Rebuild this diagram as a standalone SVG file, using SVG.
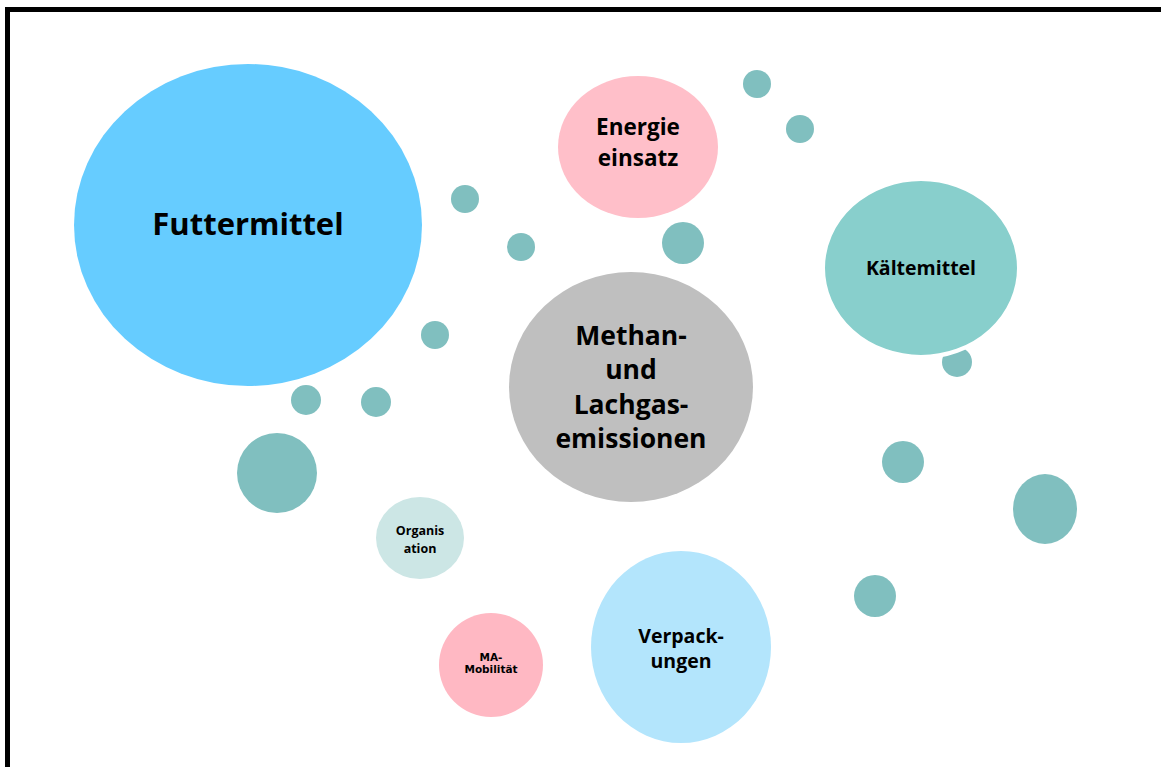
<svg xmlns="http://www.w3.org/2000/svg" width="1161" height="767" viewBox="0 0 1161 767">
<style>
.t{font-family:"Open Sans",Lato,"Liberation Sans",sans-serif;font-weight:bold;fill:#000;text-anchor:middle}
.dot{fill:#80BFBF}
</style>
<rect x="0" y="0" width="1161" height="767" fill="#fff"/>
<path d="M7.5 767 V9.5 H1161" fill="none" stroke="#000" stroke-width="5"/>
<g id="dots">
<circle class="dot" cx="757" cy="84" r="14"/>
<circle class="dot" cx="800" cy="129" r="14"/>
<circle class="dot" cx="465" cy="199" r="14"/>
<circle class="dot" cx="521" cy="247" r="14"/>
<circle class="dot" cx="683" cy="243" r="21"/>
<circle class="dot" cx="435" cy="335" r="14"/>
<circle class="dot" cx="306" cy="400" r="15"/>
<circle class="dot" cx="376" cy="402" r="15"/>
<circle class="dot" cx="277" cy="473" r="40"/>
<circle class="dot" cx="957" cy="362" r="15"/>
<circle class="dot" cx="903" cy="462" r="21"/>
<ellipse class="dot" cx="1045" cy="509" rx="32" ry="35"/>
<circle class="dot" cx="875" cy="596" r="21"/>
</g>
<g id="futtermittel">
<ellipse cx="248" cy="225" rx="174" ry="161" fill="#66CCFF"/>
<text class="t" x="248" y="235" font-size="31">Futtermittel</text>
</g>
<g id="energie">
<ellipse cx="638" cy="147" rx="80" ry="71" fill="#FFBFC9"/>
<text class="t" x="638" y="135" font-size="22.5">Energie</text>
<text class="t" x="638" y="166" font-size="22.5">einsatz</text>
</g>
<g id="kaeltemittel">
<ellipse cx="921" cy="268" rx="98" ry="89" fill="#88CFCC" stroke="#fff" stroke-width="4"/>
<text class="t" x="921" y="275" font-size="19.5">Kältemittel</text>
</g>
<g id="methan">
<ellipse cx="631" cy="387" rx="122" ry="115" fill="#BFBFBF"/>
<text class="t" x="631" y="345" font-size="26.5">Methan-</text>
<text class="t" x="631" y="379" font-size="26.5">und</text>
<text class="t" x="631" y="414" font-size="26.5">Lachgas-</text>
<text class="t" x="631" y="448" font-size="26.5">emissionen</text>
</g>
<g id="organisation">
<ellipse cx="420" cy="538" rx="44" ry="41" fill="#CCE6E5"/>
<text class="t" x="420" y="535" font-size="12.5">Organis</text>
<text class="t" x="420" y="553" font-size="12.5">ation</text>
</g>
<g id="verpackungen">
<ellipse cx="681" cy="647" rx="90" ry="96" fill="#B3E5FC"/>
<text class="t" x="681" y="643" font-size="19.5">Verpack-</text>
<text class="t" x="681" y="668" font-size="19.5">ungen</text>
</g>
<g id="mobilitaet">
<circle cx="491" cy="665" r="52" fill="#FFB8C3"/>
<text class="t" x="491" y="661" font-size="10.5" style="font-family:'DejaVu Sans',sans-serif">MA-</text>
<text class="t" x="491" y="673" font-size="10.5" style="font-family:'DejaVu Sans',sans-serif">Mobilität</text>
</g>
<g id="connectors"/>
</svg>
